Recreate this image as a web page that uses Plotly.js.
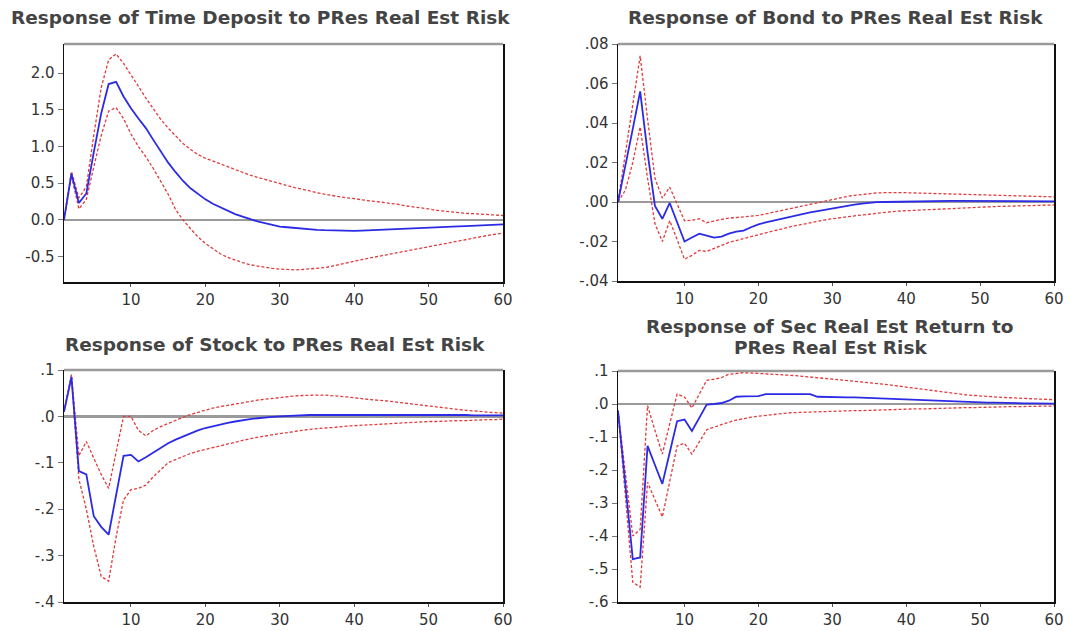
<!DOCTYPE html>
<html>
<head>
<meta charset="utf-8">
<script src="https://cdn.plot.ly/plotly-3.0.1.min.js"></script>
<style>
html,body{margin:0;padding:0;background:#fff;}
#chart{width:1089px;height:631px;}
</style>
</head>
<body>
<div id="chart"></div>
<script>
// ---- Data (impulse responses over a 60-period horizon) ----
const periods = Array.from({length: 60}, (_, i) => i + 1);

const panelTitles = [
  ["Response of Time Deposit to PRes Real Est Risk"],
  ["Response of Bond to PRes Real Est Risk"],
  ["Response of Stock to PRes Real Est Risk"],
  ["Response of Sec Real Est Return to", "PRes Real Est Risk"]
];

const tdResp = [0, 0.63, 0.23, 0.36, 0.92, 1.45, 1.85, 1.88, 1.68, 1.52,
  1.38, 1.25, 1.09, 0.93, 0.78, 0.65, 0.53, 0.43, 0.35, 0.28,
  0.22, 0.17, 0.12, 0.08, 0.045, 0.01, -0.02, -0.045, -0.07, -0.09,
  -0.10, -0.11, -0.12, -0.13, -0.135, -0.14, -0.145, -0.15, -0.15, -0.15,
  -0.145, -0.14, -0.135, -0.13, -0.125, -0.12, -0.115, -0.11, -0.105, -0.10,
  -0.098, -0.095, -0.092, -0.088, -0.085, -0.08, -0.075, -0.07, -0.065, -0.06];
const tdUpper = [0, 0.66, 0.30, 0.45, 1.15, 1.80, 2.18, 2.26, 2.13, 1.98,
  1.82, 1.66, 1.51, 1.37, 1.25, 1.14, 1.04, 0.96, 0.89, 0.84,
  0.80, 0.76, 0.72, 0.68, 0.64, 0.61, 0.58, 0.55, 0.52, 0.49,
  0.47, 0.44, 0.42, 0.39, 0.37, 0.35, 0.33, 0.32, 0.30, 0.29,
  0.27, 0.26, 0.25, 0.24, 0.22, 0.21, 0.19, 0.18, 0.16, 0.15,
  0.13, 0.12, 0.10, 0.095, 0.09, 0.085, 0.08, 0.07, 0.065, 0.06];
const tdLower = [0, 0.60, 0.15, 0.28, 0.72, 1.15, 1.48, 1.53, 1.38, 1.17,
  1.00, 0.86, 0.70, 0.52, 0.35, 0.14, 0.0, -0.12, -0.23, -0.32,
  -0.39, -0.46, -0.51, -0.55, -0.58, -0.61, -0.63, -0.65, -0.66, -0.67,
  -0.68, -0.68, -0.675, -0.67, -0.665, -0.65, -0.63, -0.605, -0.58, -0.56,
  -0.54, -0.52, -0.50, -0.48, -0.46, -0.44, -0.42, -0.40, -0.38, -0.36,
  -0.34, -0.325, -0.31, -0.29, -0.27, -0.25, -0.23, -0.21, -0.195, -0.18];

const bondResp = [0, 0.018, 0.037, 0.056, 0.025, -0.002, -0.0085, -0.0005, -0.010, -0.020,
  -0.018, -0.016, -0.017, -0.018, -0.0175, -0.016, -0.015, -0.0145, -0.0128, -0.0113,
  -0.0103, -0.0094, -0.0085, -0.0076, -0.0068, -0.006, -0.0053, -0.0046, -0.0039, -0.0032,
  -0.0025, -0.0019, -0.0013, -0.0008, -0.0004, -0.0001, 0.0, 0.0001, 0.0002, 0.0003,
  0.0004, 0.0005, 0.0005, 0.0006, 0.0006, 0.0006, 0.0006, 0.0006, 0.0006, 0.0005,
  0.0005, 0.0005, 0.0005, 0.0004, 0.0004, 0.0004, 0.0004, 0.0003, 0.0003, 0.0003];
const bondUpper = [0, 0.025, 0.050, 0.074, 0.042, 0.012, 0.002, 0.0075, -0.001, -0.0095,
  -0.0092, -0.0085, -0.0105, -0.0095, -0.0088, -0.0082, -0.0078, -0.0075, -0.0072, -0.0068,
  -0.006, -0.0052, -0.0045, -0.0037, -0.0029, -0.0018, -0.001, -0.0002, 0.0006, 0.0014,
  0.0021, 0.0028, 0.0034, 0.0039, 0.0043, 0.0046, 0.0047, 0.0048, 0.0048, 0.0047,
  0.0046, 0.0045, 0.0044, 0.0043, 0.0042, 0.0041, 0.004, 0.0039, 0.0038, 0.0037,
  0.0036, 0.0035, 0.0034, 0.0033, 0.0032, 0.0031, 0.003, 0.0029, 0.0027, 0.0026];
const bondLower = [0, 0.006, 0.020, 0.038, 0.012, -0.011, -0.020, -0.0095, -0.019, -0.029,
  -0.027, -0.0245, -0.025, -0.0235, -0.022, -0.0205, -0.0195, -0.0185, -0.0175, -0.0164,
  -0.0155, -0.0146, -0.0137, -0.0128, -0.012, -0.0112, -0.0105, -0.0098, -0.0091, -0.0085,
  -0.0079, -0.0074, -0.0070, -0.0066, -0.0061, -0.0056, -0.0052, -0.0049, -0.0046, -0.0044,
  -0.0042, -0.004, -0.0038, -0.0036, -0.0034, -0.0032, -0.003, -0.0028, -0.0026, -0.0025,
  -0.0024, -0.0023, -0.0022, -0.0021, -0.002, -0.0019, -0.0018, -0.0017, -0.0016, -0.0015];

const stockResp = [0.01, 0.085, -0.118, -0.125, -0.215, -0.238, -0.255, -0.17, -0.085, -0.083,
  -0.097, -0.088, -0.078, -0.068, -0.058, -0.05, -0.043, -0.036, -0.03, -0.025,
  -0.021, -0.017, -0.014, -0.011, -0.008, -0.006, -0.004, -0.002, -0.001, 0.0,
  0.001, 0.002, 0.002, 0.003, 0.003, 0.003, 0.004, 0.004, 0.004, 0.004,
  0.004, 0.004, 0.004, 0.004, 0.004, 0.004, 0.004, 0.004, 0.003, 0.003,
  0.003, 0.003, 0.003, 0.003, 0.003, 0.002, 0.002, 0.002, 0.002, 0.002];
const stockUpper = [0.01, 0.09, -0.085, -0.054, -0.09, -0.125, -0.155, -0.08, 0.0, 0.0,
  -0.03, -0.042, -0.03, -0.022, -0.015, -0.008, -0.002, 0.004, 0.009, 0.014,
  0.018, 0.021, 0.024, 0.027, 0.03, 0.032, 0.035, 0.037, 0.039, 0.041,
  0.042, 0.044, 0.045, 0.046, 0.046, 0.046, 0.045, 0.044, 0.042, 0.04,
  0.038, 0.037, 0.035, 0.034, 0.032, 0.031, 0.029, 0.027, 0.025, 0.023,
  0.021, 0.019, 0.017, 0.015, 0.013, 0.012, 0.01, 0.009, 0.008, 0.007];
const stockLower = [0.01, 0.085, -0.135, -0.2, -0.28, -0.345, -0.355, -0.26, -0.18, -0.158,
  -0.155, -0.148, -0.13, -0.115, -0.10, -0.093, -0.086, -0.08, -0.075, -0.071,
  -0.067, -0.063, -0.059, -0.055, -0.051, -0.048, -0.045, -0.042, -0.039, -0.037,
  -0.035, -0.032, -0.03, -0.028, -0.026, -0.025, -0.024, -0.022, -0.021, -0.02,
  -0.019, -0.018, -0.017, -0.016, -0.015, -0.014, -0.013, -0.013, -0.012, -0.011,
  -0.011, -0.01, -0.01, -0.009, -0.009, -0.008, -0.008, -0.007, -0.007, -0.006];

const secResp = [-0.02, -0.245, -0.47, -0.465, -0.127, -0.185, -0.242, -0.147, -0.052, -0.047,
  -0.082, -0.042, -0.002, 0.0, 0.003, 0.01, 0.022, 0.023, 0.023, 0.024,
  0.03, 0.03, 0.031, 0.031, 0.031, 0.031, 0.03, 0.022, 0.021, 0.021,
  0.021, 0.02, 0.02, 0.019, 0.018, 0.018, 0.016, 0.015, 0.015, 0.015,
  0.013, 0.011, 0.01, 0.009, 0.008, 0.007, 0.006, 0.006, 0.005, 0.005,
  0.004, 0.004, 0.003, 0.003, 0.003, 0.002, 0.002, 0.002, 0.001, 0.001];
const secUpper = [-0.02, -0.21, -0.40, -0.38, -0.005, -0.08, -0.152, -0.06, 0.03, 0.021,
  -0.012, 0.03, 0.072, 0.075, 0.08, 0.09, 0.093, 0.095, 0.094, 0.093,
  0.092, 0.091, 0.09, 0.088, 0.086, 0.084, 0.082, 0.08, 0.078, 0.075,
  0.073, 0.071, 0.069, 0.067, 0.065, 0.062, 0.06, 0.057, 0.054, 0.05,
  0.047, 0.044, 0.041, 0.038, 0.035, 0.032, 0.03, 0.028, 0.026, 0.024,
  0.022, 0.021, 0.02, 0.019, 0.018, 0.017, 0.016, 0.015, 0.014, 0.013];
const secLower = [-0.02, -0.28, -0.54, -0.555, -0.237, -0.29, -0.342, -0.235, -0.127, -0.119,
  -0.152, -0.115, -0.078, -0.07, -0.062, -0.055, -0.049, -0.044, -0.04, -0.037,
  -0.034, -0.031, -0.029, -0.027, -0.026, -0.025, -0.024, -0.023, -0.023, -0.022,
  -0.021, -0.021, -0.02, -0.02, -0.019, -0.019, -0.018, -0.017, -0.017, -0.016,
  -0.015, -0.015, -0.014, -0.013, -0.013, -0.012, -0.012, -0.011, -0.011, -0.01,
  -0.01, -0.009, -0.009, -0.008, -0.008, -0.008, -0.007, -0.007, -0.007, -0.006];

// ---- Tick labels ----
const xTickVals = [10, 20, 30, 40, 50, 60];
const xTickText = ["10", "20", "30", "40", "50", "60"];
const tdTickVals = [-0.5, 0, 0.5, 1.0, 1.5, 2.0];
const tdTickText = ["-0.5", "0.0", "0.5", "1.0", "1.5", "2.0"];
const bondTickVals = [-0.04, -0.02, 0, 0.02, 0.04, 0.06, 0.08];
const bondTickText = ["-.04", "-.02", ".00", ".02", ".04", ".06", ".08"];
const stockTickVals = [-0.4, -0.3, -0.2, -0.1, 0, 0.1];
const stockTickText = ["-.4", "-.3", "-.2", "-.1", ".0", ".1"];
const secTickVals = [-0.6, -0.5, -0.4, -0.3, -0.2, -0.1, 0, 0.1];
const secTickText = ["-.6", "-.5", "-.4", "-.3", "-.2", "-.1", ".0", ".1"];

// ---- Build ----
const BLUE = "#2b2be6";
const RED = "#e23a3a";
const panels = [
  {resp: tdResp, up: tdUpper, lo: tdLower},
  {resp: bondResp, up: bondUpper, lo: bondLower},
  {resp: stockResp, up: stockUpper, lo: stockLower},
  {resp: secResp, up: secUpper, lo: secLower}
];
const traces = [];
panels.forEach((p, i) => {
  const xa = i === 0 ? "x" : "x" + (i + 1);
  const ya = i === 0 ? "y" : "y" + (i + 1);
  traces.push({x: periods, y: p.up, xaxis: xa, yaxis: ya, type: "scatter", mode: "lines",
    line: {color: RED, width: 1.3, dash: "3px,2px"}, hoverinfo: "skip"});
  traces.push({x: periods, y: p.lo, xaxis: xa, yaxis: ya, type: "scatter", mode: "lines",
    line: {color: RED, width: 1.3, dash: "3px,2px"}, hoverinfo: "skip"});
  traces.push({x: periods, y: p.resp, xaxis: xa, yaxis: ya, type: "scatter", mode: "lines",
    line: {color: BLUE, width: 1.8}, hoverinfo: "skip"});
});

const tickFont = {family: "DejaVu Sans, Verdana, sans-serif", size: 15, color: "#333"};
function xAxis(domain, anchor) {
  return {domain: domain, anchor: anchor, range: [1, 60], tickvals: xTickVals, ticktext: xTickText,
    showline: true, linecolor: "#111", linewidth: 1.5, mirror: false, showgrid: false, zeroline: false,
    ticks: "outside", ticklen: 3, tickcolor: "#555", tickfont: tickFont, fixedrange: true};
}
function yAxis(domain, anchor, range, vals, text) {
  return {domain: domain, anchor: anchor, range: range, tickvals: vals, ticktext: text,
    showline: true, linecolor: "#111", linewidth: 1.5, mirror: true, showgrid: false,
    zeroline: true, zerolinecolor: "#9a9a9a", zerolinewidth: 2.5,
    ticks: "outside", ticklen: 5, tickcolor: "#777", tickfont: tickFont, fixedrange: true};
}

const W = 1089, H = 631;
const dxL = [64 / W, 503 / W], dxR = [618 / W, 1054 / W];
const titleFont = {family: "DejaVu Sans, Verdana, sans-serif", size: 18.5, weight: "bold", color: "#444"};
const titlePos = [
  [{x: 260, y: 18}],
  [{x: 836, y: 18}],
  [{x: 275, y: 344}],
  [{x: 830, y: 326}, {x: 830, y: 347}]
];
const annotations = [];
panelTitles.forEach((lines, i) => {
  lines.forEach((txt, j) => {
    annotations.push({text: txt, x: titlePos[i][j].x / W, y: 1 - titlePos[i][j].y / H,
      xref: "paper", yref: "paper", xanchor: "center", yanchor: "middle",
      showarrow: false, font: titleFont});
  });
});

const layout = {
  width: W, height: H,
  margin: {l: 0, r: 0, t: 0, b: 0},
  paper_bgcolor: "#fff", plot_bgcolor: "#fff",
  showlegend: false,
  xaxis: xAxis(dxL, "y"),
  yaxis: yAxis([1 - 282 / H, 1 - 44 / H], "x", [-0.845, 2.395], tdTickVals, tdTickText),
  xaxis2: xAxis(dxR, "y2"),
  yaxis2: yAxis([1 - 281 / H, 1 - 44 / H], "x2", [-0.04, 0.08], bondTickVals, bondTickText),
  xaxis3: xAxis(dxL, "y3"),
  yaxis3: yAxis([1 - 602 / H, 1 - 370 / H], "x3", [-0.4, 0.1], stockTickVals, stockTickText),
  xaxis4: xAxis(dxR, "y4"),
  yaxis4: yAxis([1 - 602 / H, 1 - 371 / H], "x4", [-0.6, 0.1], secTickVals, secTickText),
  shapes: ["", "2", "3", "4"].map(s => ({type: "line", xref: "x" + s + " domain", yref: "y" + s + " domain",
    x0: 0, x1: 1, y0: 1, y1: 1, line: {color: "#9a9a9a", width: 2.5}})),
  annotations: annotations
};

Plotly.newPlot("chart", traces, layout, {staticPlot: true, displayModeBar: false});
</script>
</body>
</html>
